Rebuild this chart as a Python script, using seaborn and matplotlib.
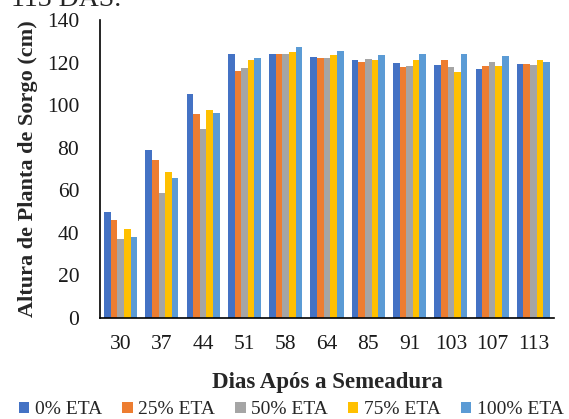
import matplotlib
matplotlib.use("Agg")
import matplotlib.pyplot as plt
import pandas as pd
import seaborn as sns

dias = ["30", "37", "44", "51", "58", "64", "85", "91", "103", "107", "113"]
tratamentos = ["0% ETA", "25% ETA", "50% ETA", "75% ETA", "100% ETA"]
eta_0 = [50, 79, 105, 124, 124, 122.5, 121, 120, 119, 117, 119.5]
eta_25 = [46, 74, 96, 116, 124, 122, 120.5, 118, 121, 118.5, 119.5]
eta_50 = [37, 58.5, 89, 117.5, 124, 122, 121.5, 118.5, 118, 120.5, 119]
eta_75 = [42, 68.5, 97.5, 121, 125, 123.5, 121, 121, 115.5, 118.5, 121]
eta_100 = [38, 66, 96.5, 122, 127.5, 125.5, 123.5, 124, 124, 123, 120.5]
cores = ["#4472C4", "#ED7D31", "#A5A5A5", "#FFC000", "#5B9BD5"]

series = [eta_0, eta_25, eta_50, eta_75, eta_100]
df = pd.DataFrame(
    [(d, t, v) for t, vals in zip(tratamentos, series) for d, v in zip(dias, vals)],
    columns=["dia", "tratamento", "altura"],
)

sns.set_theme(style="white")
plt.rcParams["font.family"] = ["Liberation Serif", "DejaVu Serif"]

fig = plt.figure(figsize=(5.69, 4.19), dpi=100)
ax = fig.add_axes([100 / 569, 1 - 318 / 419, 454 / 569, 298 / 419])

sns.barplot(data=df, x="dia", y="altura", hue="tratamento", order=dias,
            hue_order=tratamentos, palette=cores, width=0.8, saturation=1,
            linewidth=0, ax=ax)

ax.set_ylim(0, 140)
ax.set_yticks(range(0, 141, 20))
ax.set_xlim(-0.5, len(dias) - 0.5)
ax.tick_params(axis="both", length=0, labelsize=15.5, colors="#1a1a1a")
ax.tick_params(axis="x", pad=12)
ax.tick_params(axis="y", pad=15)
for s in ["top", "right"]:
    ax.spines[s].set_visible(False)
for s in ["left", "bottom"]:
    ax.spines[s].set_color("black")
    ax.spines[s].set_linewidth(1.2)

ax.set_xlabel("Dias Após a Semeadura", fontsize=16.5, fontweight="bold", labelpad=13)
ax.set_ylabel("Altura de Planta de Sorgo (cm)", fontsize=16, fontweight="bold", labelpad=6)

handles, labels = ax.get_legend_handles_labels()
ax.legend_.remove()
fig.legend(handles, labels, loc="center", bbox_to_anchor=(0.512, 0.022), ncol=5,
           frameon=False, fontsize=14, handlelength=0.55, handleheight=0.55,
           handletextpad=0.3, columnspacing=1.0, borderpad=0)

fig.text(0.02, 1.0, "113 DAS.", fontsize=20, va="center", ha="left")

fig.savefig("out.png", dpi=100)
